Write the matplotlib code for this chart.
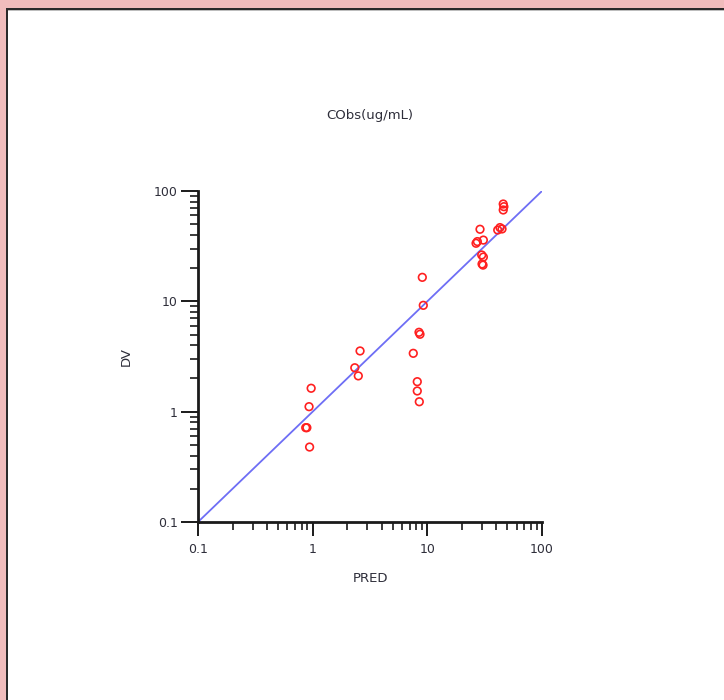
import matplotlib

matplotlib.use("Agg")
import matplotlib.pyplot as plt
from matplotlib.patches import Rectangle
from matplotlib.ticker import FixedLocator, FixedFormatter, LogLocator, NullFormatter

# observed vs population-predicted concentrations
pred = [0.87, 0.89, 0.94, 0.93, 0.97, 2.33, 2.50, 2.59, 7.54, 8.17, 8.17, 8.51,
        8.46, 8.63, 9.04, 9.22, 26.6, 27.3, 28.8, 30.8, 29.8, 30.8, 30.0, 30.6,
        41.1, 43.0, 44.8, 45.9, 46.5, 45.9]
dv = [0.716, 0.716, 0.478, 1.11, 1.63, 2.50, 2.11, 3.55, 3.38, 1.87, 1.54, 1.23,
      5.24, 5.03, 16.5, 9.2, 33.6, 34.8, 45.0, 35.9, 26.3, 25.2, 21.8, 21.3,
      44.3, 46.6, 45.3, 76.2, 72.1, 67.3]
identity = [0.1, 100]
ticks = [0.1, 1, 10, 100]
tick_labels = ["0.1", "1", "10", "100"]

W, H = 724, 700
text_color = "#2e2e3a"
plt.rcParams["font.family"] = ["DejaVu Sans"]

fig = plt.figure(figsize=(W / 100, H / 100), dpi=100)
fig.patch.set_facecolor("white")

# window frame: pink strip and dark edge on top and left
def px_rect(x, y, w, h, color):
    fig.add_artist(Rectangle((x / W, 1 - (y + h) / H), w / W, h / H,
                             transform=fig.transFigure, color=color, lw=0))

px_rect(0, 0, W, 7.5, "#f0bcbc")
px_rect(0, 0, 5.5, H, "#f0bcbc")
px_rect(5.5, 7.5, W, 2.5, "#2a2a2a")
px_rect(5.5, 7.5, 2, H, "#2a2a2a")
px_rect(7.5, 10, W, 1, "#bdbdbd")

ax = fig.add_axes([198 / W, 1 - 522 / H, 344 / W, 331 / H])
ax.set_xscale("log")
ax.set_yscale("log")
ax.set_xlim(0.1, 100)
ax.set_ylim(0.1, 100)

ax.plot(identity, identity, color="#6e6ef5", lw=1.3, zorder=2)
ax.scatter(pred, dv, s=30, facecolors="none", edgecolors="#ff2020",
           linewidths=1.2, zorder=3, clip_on=False)

for side in ("top", "right"):
    ax.spines[side].set_visible(False)
for side in ("left", "bottom"):
    ax.spines[side].set_linewidth(2.0)
    ax.spines[side].set_color("#1a1a1a")

for axis in (ax.xaxis, ax.yaxis):
    axis.set_major_locator(FixedLocator(ticks))
    axis.set_major_formatter(FixedFormatter(tick_labels))
    axis.set_minor_locator(LogLocator(base=10, subs=range(2, 10)))
    axis.set_minor_formatter(NullFormatter())

ax.tick_params(axis="y", which="major", length=12.5, width=1.4, color="#1a1a1a",
               labelsize=9, labelcolor=text_color, pad=2)
ax.tick_params(axis="x", which="major", length=10, width=1.4, color="#1a1a1a",
               labelsize=9, labelcolor=text_color, pad=5)
ax.tick_params(which="minor", length=6, width=1.2, color="#1a1a1a")

ax.set_xlabel("PRED", fontsize=9.5, color=text_color, labelpad=11.5)
ax.set_ylabel("DV", fontsize=9.5, color=text_color, labelpad=15.5)
ax.set_title("CObs(ug/mL)", fontsize=9.5, color=text_color, pad=52)

fig.savefig("out.png", dpi=100, facecolor="white")
